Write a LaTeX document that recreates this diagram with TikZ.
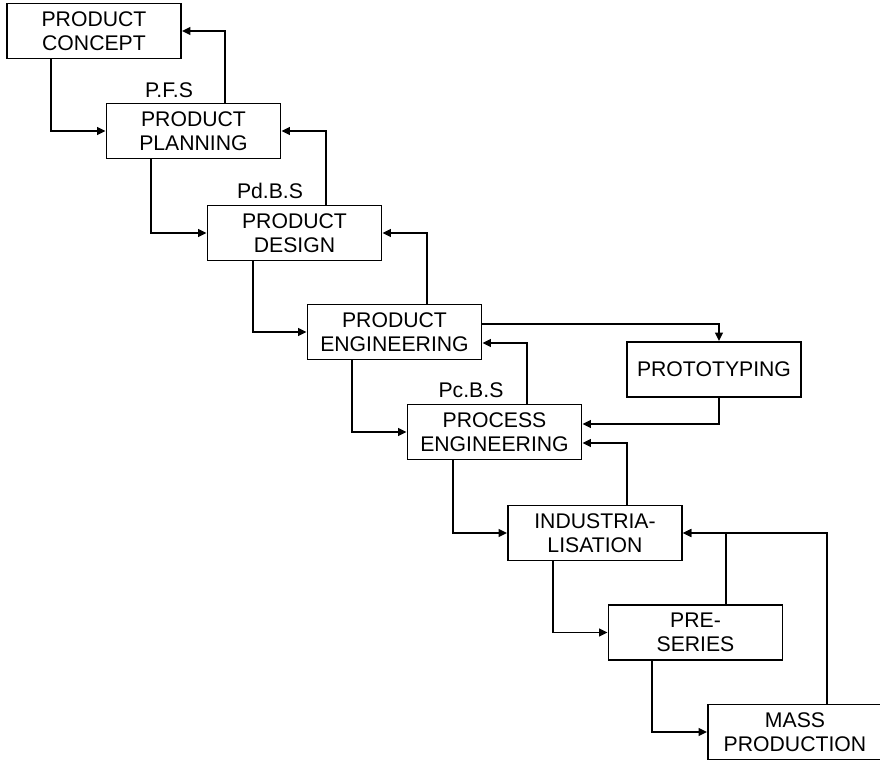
\documentclass[tikz,border=0pt]{standalone}
\usepackage{fontspec}
\setmainfont{Liberation Sans}
\usetikzlibrary{calc,arrows.meta}
\begin{document}
\begin{tikzpicture}[x=0.5pt,y=-0.5pt,
  stage/.style={draw=black,line width=0.9pt,minimum width=87pt,minimum height=27.5pt,
    inner sep=0pt,align=center,font=\fontsize{10.6}{12.3}\selectfont},
  tag/.style={inner sep=0pt,font=\fontsize{10.6}{12.3}\selectfont},
  arr/.style={line width=0.9pt,draw=black,-{Triangle[length=4.2pt,width=3.8pt]}}]
\useasboundingbox (0,0) rectangle (880,761);

% process stages
\node[stage] (concept)  at (94,31)    {PRODUCT\\CONCEPT};
\node[stage] (planning) at (193.5,131) {PRODUCT\\PLANNING};
\node[stage] (design)   at (294.5,233) {PRODUCT\\DESIGN};
\node[stage] (eng)      at (394.5,332) {PRODUCT\\ENGINEERING};
\node[stage] (proto)    at (714,369.5) {PROTOTYPING};
\node[stage] (process)  at (494.5,432) {PROCESS\\ENGINEERING};
\node[stage] (indust)   at (595,533)   {INDUSTRIA-\\LISATION};
\node[stage] (preser)   at (695.5,632.5) {PRE-\\SERIES};
\node[stage] (mass)     at (795,732)   {MASS\\PRODUCTION};

% specification labels
\node[tag] (pfs)  at (169,90)  {P.F.S};
\node[tag] (pdbs) at (270,191) {Pd.B.S};
\node[tag] (pcbs) at (471,390) {Pc.B.S};

% forward flow
\draw[arr] ($(concept.south west)+(45,0)$) |- (planning.west);
\draw[arr] ($(planning.south west)+(45,0)$) |- (design.west);
\draw[arr] ($(design.south west)+(46,0)$) |- (eng.west);
\draw[arr] ($(eng.south west)+(45,0)$) |- (process.west);
\draw[arr] ($(process.south west)+(46,0)$) |- (indust.west);
\draw[arr] ($(indust.south west)+(46,0)$) |- (preser.west);
\draw[arr] ($(preser.south west)+(44,0)$) |- (mass.west);

% prototyping loop
\draw[arr] ($(eng.east)+(0,-8)$) -| ($(proto.north)+(5,0)$);
\draw[arr] ($(proto.south)+(5,0)$) |- ($(process.east)+(0,-8)$);

% feedback paths
\draw[arr] ($(planning.north west)+(119,0)$) |- (concept.east);
\draw[arr] ($(design.north west)+(119,0)$) |- (planning.east);
\draw[arr] ($(eng.north west)+(120,0)$) |- (design.east);
\draw[arr] ($(process.north west)+(120,0)$) |- ($(eng.east)+(0,11)$);
\draw[arr] ($(indust.north west)+(120,0)$) |- ($(process.east)+(0,11)$);
\draw[arr] ($(preser.north west)+(118,0)$) |- (indust.east);
\draw[arr] ($(mass.north west)+(120,0)$) |- (indust.east);
\end{tikzpicture}
\end{document}
